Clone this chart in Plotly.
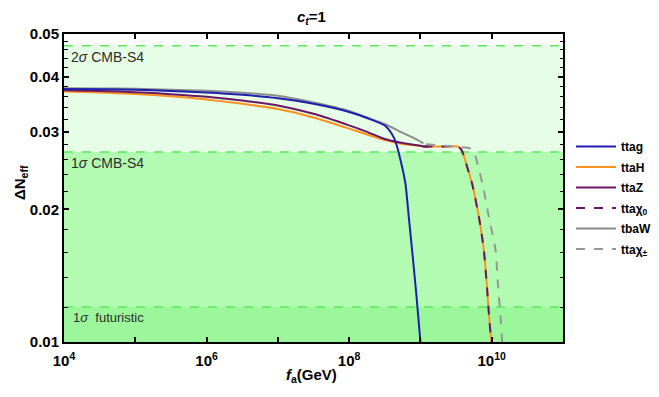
import math
import plotly.graph_objects as go

# ---- data ----
fa_ttag = [1e4, 3.16e4, 1e5, 3.16e5, 1e6, 3.16e6, 1e7, 3.16e7, 1e8, 1.78e8, 3.16e8, 3.98e8, 4.47e8,
           5.25e8, 6.15e8, 6.86e8, 7.64e8, 8.8e8, 1e9]
dn_ttag = [0.03752, 0.03746, 0.03735, 0.03713, 0.03684, 0.03640, 0.03574, 0.03472, 0.03327, 0.03224, 0.03100,
           0.02966, 0.02848, 0.02589, 0.02292, 0.01925, 0.01617, 0.01272, 0.0100]

fa_ttaH = [1e4, 3.16e4, 1e5, 3.16e5, 1e6, 3.16e6, 1e7, 3.16e7, 1e8, 1.78e8, 3.16e8, 5.62e8, 1e9, 1.1e9,
           2e9, 3.4e9, 3.77e9, 4.15e9, 4.57e9, 5.3e9, 6.6e9, 7.75e9, 8.5e9, 9.2e9, 9.85e9]
dn_ttaH = [0.03700, 0.03681, 0.03655, 0.03611, 0.03549, 0.03472, 0.03379, 0.03232, 0.03050, 0.02958, 0.02874,
           0.02814, 0.02786, 0.02779,
           0.02777, 0.02775, 0.02729, 0.02616, 0.02483, 0.0229, 0.01925, 0.0162, 0.0136, 0.0114, 0.0100]

fa_ttaZ = [1e4, 3.16e4, 1e5, 3.16e5, 1e6, 3.16e6, 1e7, 3.16e7, 1e8, 1.78e8, 3.16e8, 5.62e8, 1e9, 1.1e9, 1.3e9]
dn_ttaZ = [0.03727, 0.03713, 0.03690, 0.03651, 0.03602, 0.03531, 0.03442, 0.03295, 0.03102, 0.02999, 0.02888,
           0.02829, 0.02787, 0.02779, 0.02778]

fa_ttachi0 = [1.1e9, 2e9, 3.4e9, 3.77e9, 4.15e9, 4.57e9, 5.3e9, 6.6e9, 7.75e9, 8.5e9, 9.2e9, 9.85e9]
dn_ttachi0 = [0.02779, 0.02777, 0.02775, 0.02729, 0.02616, 0.02483, 0.0229, 0.01925, 0.0162, 0.0136, 0.0114, 0.0100]

fa_tbaW = [1e4, 3.16e4, 1e5, 3.16e5, 1e6, 3.16e6, 1e7, 3.16e7, 1e8, 1.78e8, 3.16e8, 5.62e8, 8e8, 1.1e9]
dn_tbaW = [0.03766, 0.03762, 0.03754, 0.03738, 0.03717, 0.03680, 0.03621, 0.03496, 0.03345, 0.03232, 0.03124,
           0.02981, 0.02905, 0.02825]

fa_ttachipm = [1.2e9, 2e9, 3.4e9, 4.6e9, 5.5e9, 6.12e9, 7.4e9, 9.1e9, 1.13e10, 1.22e10, 1.33e10, 1.4e10]
dn_ttachipm = [0.0281, 0.0279, 0.0277, 0.0276, 0.0273, 0.0259, 0.0229, 0.01925, 0.0162, 0.0136, 0.0114, 0.0100]

# sensitivity bands
band_2sigma = 0.047
band_1sigma = 0.027
band_future = 0.012

x_range = [1e4, 1e11]
y_range = [0.01, 0.05]

x_ticks = [1e4, 1e6, 1e8, 1e10]
x_ticktext = ["10<sup>4</sup>", "10<sup>6</sup>", "10<sup>8</sup>", "10<sup>10</sup>"]
x_minor = [1e5, 1e7, 1e9, 1e11]
y_ticks = [0.01, 0.02, 0.03, 0.04, 0.05]
y_ticktext = ["0.01", "0.02", "0.03", "0.04", "0.05"]
y_minor = [0.012, 0.014, 0.016, 0.018, 0.022, 0.024, 0.026, 0.028,
           0.032, 0.034, 0.036, 0.038, 0.042, 0.044, 0.046, 0.048]

# ---- styles ----
FONT = "Liberation Sans, Arial, sans-serif"
C_BLUE = "rgb(30,30,175)"
C_ORANGE = "rgb(255,145,30)"
C_PURPLE = "rgb(105,25,100)"
C_GRAY = "rgb(140,140,140)"
C_GRAYD = "rgb(150,150,150)"
C_BAND2 = "rgb(230,253,230)"
C_BAND1 = "rgb(179,251,179)"
C_BANDF = "rgb(156,246,156)"
C_DASH = "rgb(90,235,90)"

fig = go.Figure()

def add(fa, dn, name, color, dash="solid", rank=1):
    fig.add_trace(go.Scatter(
        x=fa, y=dn, name=name, mode="lines", legendrank=rank, legendgroup=f"g{rank}",
        line=dict(color=color, width=2, dash=dash, shape="spline", smoothing=0.6),
    ))

add(fa_ttaH, dn_ttaH, "ttaH", C_ORANGE, rank=2)
add(fa_ttaZ, dn_ttaZ, "ttaZ", C_PURPLE, rank=3)
add(fa_ttachi0, dn_ttachi0, "ttaχ<sub>0</sub>", C_PURPLE, "dash", rank=4)
add(fa_tbaW, dn_tbaW, "tbaW", C_GRAY, rank=5)
add(fa_ttachipm, dn_ttachipm, "ttaχ<sub>±</sub>", C_GRAYD, "dash", rank=6)
add(fa_ttag, dn_ttag, "ttag", C_BLUE, rank=1)

shapes = [
    dict(type="rect", xref="x domain", yref="y", x0=0, x1=1, y0=band_1sigma, y1=band_2sigma,
         fillcolor=C_BAND2, line_width=0, layer="below"),
    dict(type="rect", xref="x domain", yref="y", x0=0, x1=1, y0=band_future, y1=band_1sigma,
         fillcolor=C_BAND1, line_width=0, layer="below"),
    dict(type="rect", xref="x domain", yref="y", x0=0, x1=1, y0=y_range[0], y1=band_future,
         fillcolor=C_BANDF, line_width=0, layer="below"),
]
for v in (band_2sigma, band_1sigma, band_future):
    shapes.append(dict(type="line", xref="x domain", yref="y", x0=0, x1=1, y0=v, y1=v,
                       line=dict(color=C_DASH, width=1.5, dash="dash"), layer="below"))

LABEL_COLOR = "rgb(45,45,45)"
annotations = [
    dict(text="2<i>σ</i> CMB-S4", xref="paper", yref="y", x=0.01, y=math.log10(band_2sigma),
         xanchor="left", yanchor="top", yshift=-1, showarrow=False,
         font=dict(family=FONT, size=14, color=LABEL_COLOR)),
    dict(text="1<i>σ</i> CMB-S4", xref="paper", yref="y", x=0.01, y=math.log10(band_1sigma),
         xanchor="left", yanchor="top", yshift=-1, showarrow=False,
         font=dict(family=FONT, size=14, color=LABEL_COLOR)),
    dict(text="1<i>σ</i>  futuristic", xref="paper", yref="y", x=0.014, y=math.log10(band_future),
         xanchor="left", yanchor="top", yshift=-1, showarrow=False,
         font=dict(family=FONT, size=13, color=LABEL_COLOR)),
    dict(text="<b><i>c</i><sub><i>t</i></sub>=1</b>", xref="paper", yref="paper", x=0.496, y=1.055,
         xanchor="center", yanchor="middle", showarrow=False,
         font=dict(family=FONT, size=15, color="black")),
    dict(text="<b>ΔN<sub>eff</sub></b>", xref="paper", yref="paper", x=0, y=0.516, xshift=-44,
         xanchor="center", yanchor="middle", textangle=-90, showarrow=False,
         font=dict(family=FONT, size=15, color="black")),
    dict(text="<b><i>f</i><sub>a</sub>(GeV)</b>", xref="paper", yref="paper", x=0.496, y=-0.11,
         xanchor="center", yanchor="middle", showarrow=False,
         font=dict(family=FONT, size=15, color="black")),
]

# page body has an 8px default margin; the figure is sized/margined to compensate
fig.update_layout(
    width=651, height=389,
    margin=dict(l=56, r=96, t=26, b=55, autoexpand=False),
    paper_bgcolor="white", plot_bgcolor="white",
    shapes=shapes, annotations=annotations,
    font=dict(family=FONT, color="black"),
    legend=dict(x=1.016, y=0.682, xanchor="left", yanchor="top",
                font=dict(family=FONT, size=12, color="black", weight="bold"),
                itemwidth=40, tracegroupgap=1.5, bgcolor="rgba(0,0,0,0)"),
    showlegend=True,
)
fig.update_xaxes(type="log", range=[math.log10(x_range[0]), math.log10(x_range[1])],
                 tickmode="array", tickvals=x_ticks, ticktext=x_ticktext,
                 ticks="inside", ticklen=5, tickwidth=1.5, tickcolor="black",
                 minor=dict(tickmode="array", tickvals=x_minor, ticks="inside", ticklen=5,
                            tickwidth=1.5, tickcolor="black", showgrid=False),
                 showline=True, linecolor="black", linewidth=2, mirror="ticks",
                 showgrid=False, zeroline=False, ticklabelstandoff=4,
                 tickfont=dict(family=FONT, size=15, color="black", weight="bold"))
fig.update_yaxes(type="log", range=[math.log10(y_range[0]), math.log10(y_range[1])],
                 tickmode="array", tickvals=y_ticks, ticktext=y_ticktext,
                 ticks="inside", ticklen=5, tickwidth=1.5, tickcolor="black",
                 minor=dict(tickmode="array", tickvals=y_minor, ticks="inside", ticklen=3.5,
                            tickwidth=1.2, tickcolor="black", showgrid=False),
                 showline=True, linecolor="black", linewidth=2, mirror="ticks",
                 showgrid=False, zeroline=False,
                 tickfont=dict(family=FONT, size=15, color="black", weight="bold"))

fig.write_html("out.html")
